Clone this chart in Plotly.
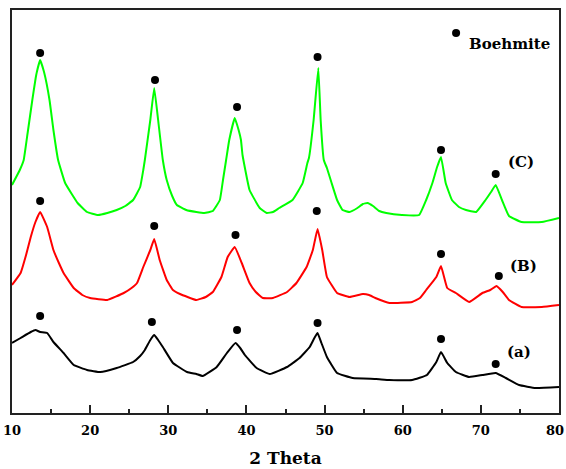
import plotly.graph_objects as go

# XRD patterns of the three samples (2-theta in degrees, intensity in a.u., stacked)
two_theta_c = [10.0, 11.0, 11.5, 12.0, 12.6, 13.1, 13.6, 14.1, 14.8, 15.3, 15.9, 16.8, 18.4, 19.6,
               21.0, 22.2, 23.4, 24.5, 25.5, 26.4, 26.8, 27.0, 27.7, 28.2, 28.7, 29.3, 29.8, 30.5,
               31.1, 32.3, 33.6, 34.6, 35.7, 36.6, 37.0, 37.4, 37.8, 38.5, 39.0, 39.3, 39.5, 40.4,
               41.7, 42.6, 43.4, 44.2, 45.9, 47.2, 47.8, 48.0, 48.6, 49.2, 49.5, 49.9, 50.3, 50.9,
               51.6, 52.3, 53.2, 54.2, 54.9, 55.5, 56.2, 57.0, 57.9, 59.9, 62.1, 63.0, 63.8, 64.4,
               64.9, 65.5, 66.3, 67.2, 68.1, 69.4, 70.6, 71.3, 71.9, 72.7, 73.6, 75.2, 77.8, 80.0]
intensity_c = [228, 243, 253, 280, 313, 338, 353, 341, 313, 283, 253, 230, 210, 201,
               198, 200, 203, 207, 213, 226, 243, 253, 293, 325, 293, 253, 233, 217,
               208, 203, 201, 200, 202, 213, 233, 253, 273, 295, 283, 273, 258, 223,
               205, 200, 201, 205, 213, 230, 250, 255, 293, 345, 293, 253, 245, 230,
               213, 203, 201, 205, 209, 210, 207, 202, 200, 198, 198, 213, 230, 246,
               256, 230, 213, 206, 203, 201, 213, 221, 228, 213, 197, 191, 191, 195]

two_theta_b = [10.0, 11.1, 11.8, 12.4, 13.0, 13.6, 14.5, 15.3, 16.0, 16.6, 17.9, 19.0, 20.0, 22.2,
               24.3, 25.3, 26.0, 26.8, 27.7, 28.2, 28.9, 29.8, 30.6, 31.5, 33.6, 34.8, 35.7, 36.8,
               37.6, 38.5, 39.4, 40.4, 41.2, 42.1, 43.4, 45.2, 46.4, 47.7, 48.5, 49.1, 49.7, 50.3,
               51.6, 53.2, 54.9, 55.7, 56.5, 58.3, 61.2, 62.2, 63.0, 64.3, 64.9, 65.7, 66.8, 68.5,
               70.2, 71.2, 72.0, 72.8, 73.6, 75.2, 77.8, 80.0]
intensity_b = [128, 140, 158, 176, 191, 201, 186, 163, 150, 140, 125, 118, 115, 113,
               120, 125, 130, 146, 163, 174, 153, 133, 123, 119, 113, 116, 121, 136,
               156, 166, 150, 130, 121, 115, 115, 121, 130, 146, 163, 184, 163, 136,
               120, 116, 119, 118, 115, 110, 111, 115, 123, 136, 147, 125, 120, 111,
               120, 123, 127, 121, 113, 106, 106, 108]

two_theta_a = [10.0, 11.1, 12.4, 13.0, 13.6, 14.5, 15.3, 16.6, 17.9, 19.6, 21.3, 23.4, 25.5, 26.4,
               27.0, 27.7, 28.2, 28.7, 29.3, 30.6, 32.4, 33.6, 34.4, 36.2, 37.5, 38.6, 39.2, 39.8,
               41.3, 43.0, 45.2, 46.8, 48.1, 48.7, 49.1, 49.6, 50.3, 51.6, 53.6, 56.6, 58.3, 61.2,
               63.1, 64.3, 64.9, 65.7, 66.8, 68.5, 70.2, 71.9, 73.2, 74.9, 77.0, 80.0]
intensity_a = [70, 75, 81, 83, 81, 80, 71, 60, 48, 43, 41, 45, 51, 57,
               63, 73, 78, 73, 66, 50, 41, 39, 37, 46, 60, 70, 65, 58,
               45, 39, 46, 55, 66, 75, 80, 70, 56, 40, 35, 34, 33, 33,
               38, 51, 61, 50, 41, 36, 38, 40, 35, 28, 25, 26]

# Boehmite reflections marked above each pattern
boehmite_c_x = [13.6, 28.3, 38.8, 49.1, 64.9, 71.9]
boehmite_c_y = [360, 333, 306, 356, 263, 239]
boehmite_b_x = [13.6, 28.2, 38.6, 49.0, 64.9, 72.3]
boehmite_b_y = [212, 187, 178, 202, 159, 137]
boehmite_a_x = [13.6, 27.9, 38.8, 49.1, 64.9, 71.9]
boehmite_a_y = [97, 91, 83, 90, 74, 49]

sample_labels = ["(C)", "(B)", "(a)"]
label_x = [75.2, 75.5, 74.9]
label_y = [251, 147, 61]

# x-axis labels
tick_vals = [10, 20, 30, 40, 50, 60, 70]
tick_text = ["10", "20", "30", "40", "50", "60", "70"]
last_tick = 80

serif = "DejaVu Serif"

fig = go.Figure()
for xs, ys, col in [(two_theta_a, intensity_a, "#000000"),
                    (two_theta_b, intensity_b, "#ff0000"),
                    (two_theta_c, intensity_c, "#00ff00")]:
    fig.add_trace(go.Scatter(x=xs, y=ys, mode="lines",
                             line=dict(color=col, width=2.0, shape="spline", smoothing=0.3),
                             showlegend=False, hoverinfo="skip"))

dot_x = boehmite_c_x + boehmite_b_x + boehmite_a_x
dot_y = boehmite_c_y + boehmite_b_y + boehmite_a_y
fig.add_trace(go.Scatter(x=dot_x, y=dot_y, mode="markers",
                         marker=dict(color="#000000", size=8, symbol="circle"),
                         showlegend=False, hoverinfo="skip"))

for t, lx, ly in zip(sample_labels, label_x, label_y):
    fig.add_annotation(x=lx, y=ly, text=f"<b>{t}</b>", showarrow=False,
                       font=dict(family=serif, size=15, color="#000000"))

# key for the dot symbol
fig.add_shape(type="circle", xref="paper", yref="paper",
              x0=0.8045, x1=0.8192, y0=0.933, y1=0.953,
              fillcolor="#000000", line=dict(color="#000000", width=0))
fig.add_annotation(xref="paper", yref="paper", x=0.832, y=0.943, xanchor="left",
                   text="<b>Boehmite</b>", showarrow=False,
                   font=dict(family=serif, size=15, color="#000000"))

# the label at the right end of the axis, nudged so it stays inside the page
fig.add_annotation(x=last_tick, xref="x", y=0, yref="paper", yanchor="top",
                   text=f"<b>{last_tick}</b>", showarrow=False, xshift=-4, yshift=-8,
                   font=dict(family=serif, size=13, color="#000000"))

fig.update_layout(
    width=566, height=469,
    margin=dict(l=12, r=7, t=10, b=56),
    paper_bgcolor="white", plot_bgcolor="white",
    font=dict(family=serif),
    xaxis=dict(range=[10, 80], tickmode="array", tickvals=tick_vals,
               ticktext=[f"<b>{t}</b>" for t in tick_text],
               ticks="inside", ticklen=8, tickwidth=2,
               tickcolor="#222222", showline=True, linewidth=2, linecolor="#222222", mirror=True,
               showgrid=False, zeroline=False, automargin=False, ticklabeloverflow="allow",
               ticklabelstandoff=4,
               minor=dict(tickmode="array", tickvals=[15, 25, 35, 45, 55, 65, 75],
                          ticks="inside", ticklen=4, tickwidth=1.5, tickcolor="#222222"),
               tickfont=dict(family=serif, size=13, color="#000000"),
               title=dict(text="<b>2 Theta</b>", font=dict(family=serif, size=17, color="#000000"),
                          standoff=16)),
    yaxis=dict(range=[0, 403], showticklabels=False, ticks="", showgrid=False, zeroline=False,
               automargin=False,
               showline=True, linewidth=2, linecolor="#222222", mirror=True),
)

fig.write_html("out.html")
